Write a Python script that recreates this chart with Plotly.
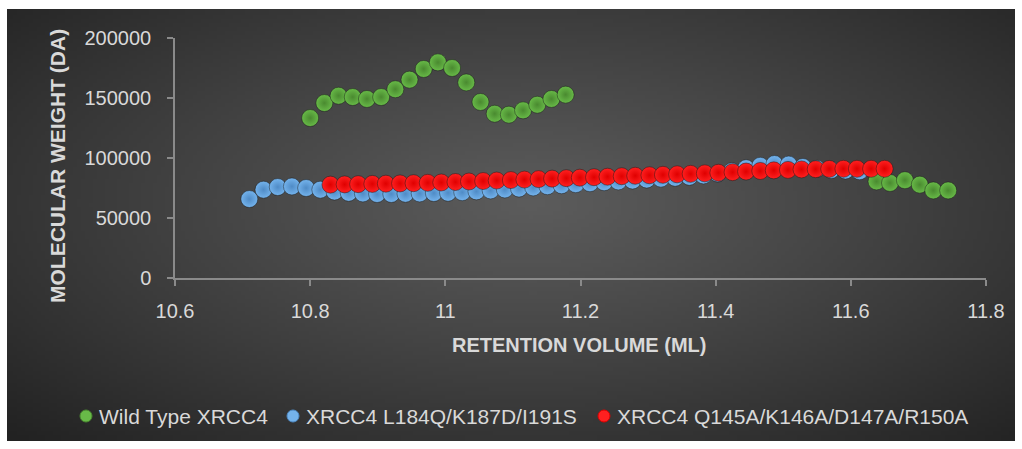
import base64
import struct
import zlib

import numpy as np
import plotly.graph_objects as go

# ---- data -----------------------------------------------------------------
wt_volume = [10.800, 10.821, 10.842, 10.863, 10.884, 10.905, 10.926, 10.947,
             10.968, 10.989, 11.010, 11.031, 11.052, 11.073, 11.094, 11.115,
             11.136, 11.157, 11.178,
             11.638, 11.658, 11.680, 11.702, 11.722, 11.744]
wt_mw = [133300, 145800, 151900, 150800, 149200, 150800, 157300, 165300,
         174200, 179700, 175000, 163000, 146700, 136900, 136100, 139700,
         144400, 149200, 152800,
         80500, 79200, 81500, 77800, 73000, 73000]

mut1_volume = [10.710, 10.731, 10.752, 10.773, 10.794, 10.815, 10.836, 10.857,
               10.878, 10.899, 10.920, 10.941, 10.962, 10.983, 11.004, 11.025,
               11.046, 11.067, 11.088, 11.109, 11.130, 11.151, 11.172, 11.193,
               11.214, 11.235, 11.256, 11.277, 11.298, 11.319, 11.340, 11.361,
               11.382, 11.403, 11.424, 11.445, 11.466, 11.487, 11.508, 11.529,
               11.550, 11.571, 11.592, 11.613]
mut1_mw = [65800, 73600, 75800, 76300, 75000, 73600, 72000, 71000,
           70500, 70000, 70000, 70200, 70500, 70800, 71000, 71500,
           72200, 73000, 73800, 74500, 75500, 76500, 77300, 78200,
           79000, 79800, 80500, 81200, 82000, 82800, 83500, 84300,
           85500, 87000, 89000, 91500, 93500, 95000, 94500, 92500,
           91000, 90000, 89500, 89000]

mut2_volume = [10.830, 10.851, 10.871, 10.892, 10.912, 10.933, 10.953, 10.974,
               10.994, 11.015, 11.035, 11.056, 11.076, 11.097, 11.117, 11.138,
               11.158, 11.179, 11.199, 11.220, 11.240, 11.261, 11.281, 11.302,
               11.322, 11.343, 11.363, 11.384, 11.404, 11.425, 11.445, 11.466,
               11.486, 11.507, 11.527, 11.548, 11.568, 11.589, 11.609, 11.630,
               11.650]
mut2_mw = [77800, 78000, 78200, 78400, 78600, 78800, 79000, 79300,
           79600, 80000, 80400, 80800, 81200, 81600, 82000, 82400,
           82800, 83200, 83600, 84000, 84400, 84800, 85200, 85600,
           86000, 86400, 86800, 87200, 87700, 88200, 88700, 89200,
           89700, 90100, 90500, 90700, 90900, 91000, 91000, 91000,
           91000]

series_names = ["Wild Type XRCC4",
                "XRCC4 L184Q/K187D/I191S",
                "XRCC4 Q145A/K146A/D147A/R150A"]

x_ticks = [10.6, 10.8, 11.0, 11.2, 11.4, 11.6, 11.8]
x_tick_text = ["10.6", "10.8", "11", "11.2", "11.4", "11.6", "11.8"]
y_ticks = [0, 50000, 100000, 150000, 200000]

# ---- dark radial-gradient backdrop ------------------------------------------


def gray_png_uri(arr):
    h, w = arr.shape
    raw = b"".join(b"\x00" + arr[i].tobytes() for i in range(h))

    def chunk(tag, data):
        body = tag + data
        return (struct.pack(">I", len(data)) + body
                + struct.pack(">I", zlib.crc32(body) & 0xFFFFFFFF))

    png = (b"\x89PNG\r\n\x1a\n"
           + chunk(b"IHDR", struct.pack(">IIBBBBB", w, h, 8, 0, 0, 0, 0))
           + chunk(b"IDAT", zlib.compress(raw, 9))
           + chunk(b"IEND", b""))
    return "data:image/png;base64," + base64.b64encode(png).decode()


gw, gh = 252, 108
yy, xx = np.mgrid[0:gh, 0:gw]
dx = (xx / (gw - 1) - 0.52) / 0.52
dy = (yy / (gh - 1) - 0.45) / 0.55
r = np.clip(np.sqrt(dx ** 2 + dy ** 2) / np.sqrt(2), 0, 1)
shade = (92 - (92 - 34) * r ** 1.1).astype(np.uint8)
backdrop = gray_png_uri(shade)

# ---- geometry (pixels) -----------------------------------------------------
W, H = 1022, 449
L, R, T, B = 175, 36, 38, 171
pw, ph = W - L - R, H - T - B


def px(x):
    return (x - L) / pw


def py(y):
    return (H - B - y) / ph


text_col = "#d9d9d9"
axis_col = "#8a8a8a"
font_family = "Liberation Sans, Arial, sans-serif"

fig = go.Figure()

styles = [
    ("#68ba48", "#4a8a30"),
    ("#74b3ec", "#4f8bc6"),
    ("#ff2020", "#e00000"),
]
for name, xs, ys, (c_in, c_out) in zip(
        series_names,
        [wt_volume, mut1_volume, mut2_volume],
        [wt_mw, mut1_mw, mut2_mw],
        styles):
    fig.add_trace(go.Scatter(
        x=xs, y=ys, name=name, mode="markers", showlegend=False,
        marker=dict(size=17, color=c_in,
                    gradient=dict(type="radial", color=c_out),
                    line=dict(color="rgba(20,20,20,0.45)", width=1)),
    ))

fig.update_xaxes(
    range=[10.6, 11.8], tickvals=x_ticks, ticktext=x_tick_text,
    showgrid=False, zeroline=False,
    showline=True, linecolor=axis_col, linewidth=1.5,
    ticks="outside", ticklen=6, tickcolor=axis_col, tickwidth=1.5,
    ticklabelstandoff=8,
    tickfont=dict(family=font_family, size=20, color=text_col),
)
fig.update_yaxes(
    range=[0, 200000], tickvals=y_ticks, tickformat="d",
    showgrid=False, zeroline=False,
    showline=True, linecolor=axis_col, linewidth=1.5,
    ticks="outside", ticklen=6, tickcolor=axis_col, tickwidth=1.5,
    ticklabelstandoff=12,
    tickfont=dict(family=font_family, size=20, color=text_col),
)

fig.add_layout_image(dict(
    source=backdrop, xref="paper", yref="paper",
    x=px(7), y=py(9), sizex=px(1015) - px(7), sizey=py(9) - py(441),
    xanchor="left", yanchor="top", sizing="stretch", layer="below",
))

# axis titles
fig.add_annotation(text="<b>RETENTION VOLUME (ML)</b>", xref="paper", yref="paper",
                   x=px(579), y=py(345), xanchor="center", yanchor="middle",
                   showarrow=False,
                   font=dict(family=font_family, size=20, color=text_col))
fig.add_annotation(text="<b>MOLECULAR WEIGHT (DA)</b>", xref="paper", yref="paper",
                   x=px(57), y=py(166), xanchor="center", yanchor="middle",
                   textangle=-90, showarrow=False,
                   font=dict(family=font_family, size=21, color=text_col))

# legend row below the axes: dot + label per series
legend_y = 416
legend_dot_x = [86, 293, 604]
legend_text_x = [97, 304, 615]
for name, dot_x, txt_x, (c_in, c_out) in zip(series_names, legend_dot_x,
                                              legend_text_x, styles):
    fig.add_shape(type="circle", xref="paper", yref="paper",
                  xsizemode="pixel", ysizemode="pixel",
                  xanchor=px(dot_x), yanchor=py(legend_y),
                  x0=-6, x1=6, y0=-6, y1=6,
                  fillcolor=c_in, line=dict(color=c_out, width=1))
    fig.add_annotation(text=name, xref="paper", yref="paper",
                       x=px(txt_x), y=py(legend_y), xanchor="left",
                       yanchor="middle", showarrow=False,
                       font=dict(family=font_family, size=21, color=text_col))

fig.update_layout(
    width=W, height=H,
    margin=dict(l=L, r=R, t=T, b=B),
    paper_bgcolor="white", plot_bgcolor="rgba(0,0,0,0)",
    showlegend=False,
)

fig.write_html("out.html")
